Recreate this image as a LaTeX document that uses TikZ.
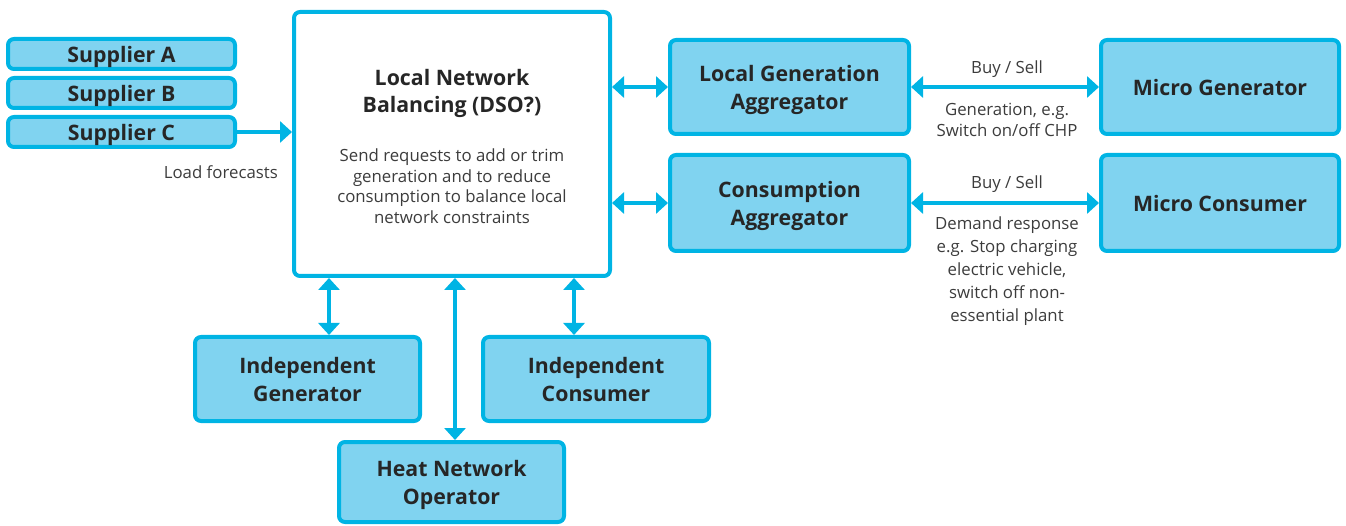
\documentclass[tikz,border=0pt]{standalone}
\usepackage{fontspec}
\setmainfont{Open Sans}
\usetikzlibrary{arrows.meta}
\definecolor{flowcyan}{RGB}{0,180,228}
\definecolor{flowfill}{RGB}{128,211,240}
\definecolor{notegrey}{RGB}{60,60,60}

\tikzset{
  actor/.style={draw=flowcyan, fill=flowfill, line width=4pt, rounded corners=6pt,
    inner sep=0pt, align=center, text=black!85, text depth=0pt,
    font=\fontsize{21.3}{28}\selectfont\bfseries},
  hub/.style={draw=flowcyan, fill=white, line width=4pt, rounded corners=6pt, inner sep=0pt},
  link/.style={draw=flowcyan, line width=4pt, {Triangle[width=21pt,length=12pt]}-{Triangle[width=21pt,length=12pt]}},
  feed/.style={draw=flowcyan, line width=4pt, -{Triangle[width=21pt,length=12pt]}},
  note/.style={align=center, text=notegrey, font=\fontsize{16.8}{20.5}\selectfont, inner sep=0pt}
}

\begin{document}
\begin{tikzpicture}[x=1pt, y=-1pt]
  \useasboundingbox (0,0) rectangle (1346,526);

  % Suppliers
  \node[actor, minimum width=227pt, minimum height=30pt] (supA) at (121.5,54) {Supplier A};
  \node[actor, minimum width=227pt, minimum height=30pt] (supB) at (121.5,93) {Supplier B};
  \node[actor, minimum width=227pt, minimum height=30pt] (supC) at (121.5,132) {Supplier C};
  \node[note, anchor=east] (loadlbl) at (278,172) {Load forecasts};

  % Local network balancing
  \node[hub, minimum width=316pt, minimum height=264pt] (dso) at (452,144) {};
  \node[note, text=black!85, font=\fontsize{21.3}{27}\selectfont\bfseries] (dsotitle) at (452,93)
    {Local Network\\Balancing (DSO?)};
  \node[note] (dsotext) at (452,186)
    {Send requests to add or trim\\generation and to reduce\\consumption to balance local\\network constraints};

  % Aggregators
  \node[actor, minimum width=239pt, minimum height=94pt] (lga) at (789.5,87) {Local Generation\\Aggregator};
  \node[actor, minimum width=239pt, minimum height=96pt] (cagg) at (789.5,203) {Consumption\\Aggregator};

  % Micro participants
  \node[actor, minimum width=238pt, minimum height=94pt] (mgen) at (1220,87) {Micro Generator};
  \node[actor, minimum width=238pt, minimum height=96pt] (mcon) at (1220,203) {Micro Consumer};

  % Independent participants
  \node[actor, minimum width=225pt, minimum height=84pt] (igen) at (307.5,379) {Independent\\Generator};
  \node[actor, minimum width=226pt, minimum height=84pt] (icon) at (596,379) {Independent\\Consumer};
  \node[actor, minimum width=225pt, minimum height=80pt] (heat) at (451.5,482) {Heat Network\\Operator};

  % Trading labels
  \node[note] (buyA) at (1007,69) {Buy / Sell};
  \node[note] (genlbl) at (1007,120) {Generation, e.g.\\Switch on/off CHP};
  \node[note] (buyB) at (1007,184) {Buy / Sell};
  \node[note, font=\fontsize{16.8}{23}\selectfont] (demlbl) at (1007,271)
    {Demand response\\e.g. Stop charging\\electric vehicle,\\switch off non-\\essential plant};

  % Connectors
  \draw[feed] (supC.east) -- (supC.east -| dso.west);
  \draw[link] (dso.east |- lga.west) -- (lga.west);
  \draw[link] (dso.east |- cagg.west) -- (cagg.west);
  \draw[link] (lga.east) -- (mgen.west);
  \draw[link] (cagg.east) -- (mcon.west);

  \coordinate (igtip) at ([xshift=21.5pt]igen.north);
  \coordinate (ictip) at ([xshift=-22pt]icon.north);
  \coordinate (hntip) at ([xshift=3.5pt]heat.north);
  \draw[link] (igtip |- dso.south) -- (igtip);
  \draw[link] (ictip |- dso.south) -- (ictip);
  \draw[link] (hntip |- dso.south) -- (hntip);
\end{tikzpicture}
\end{document}
